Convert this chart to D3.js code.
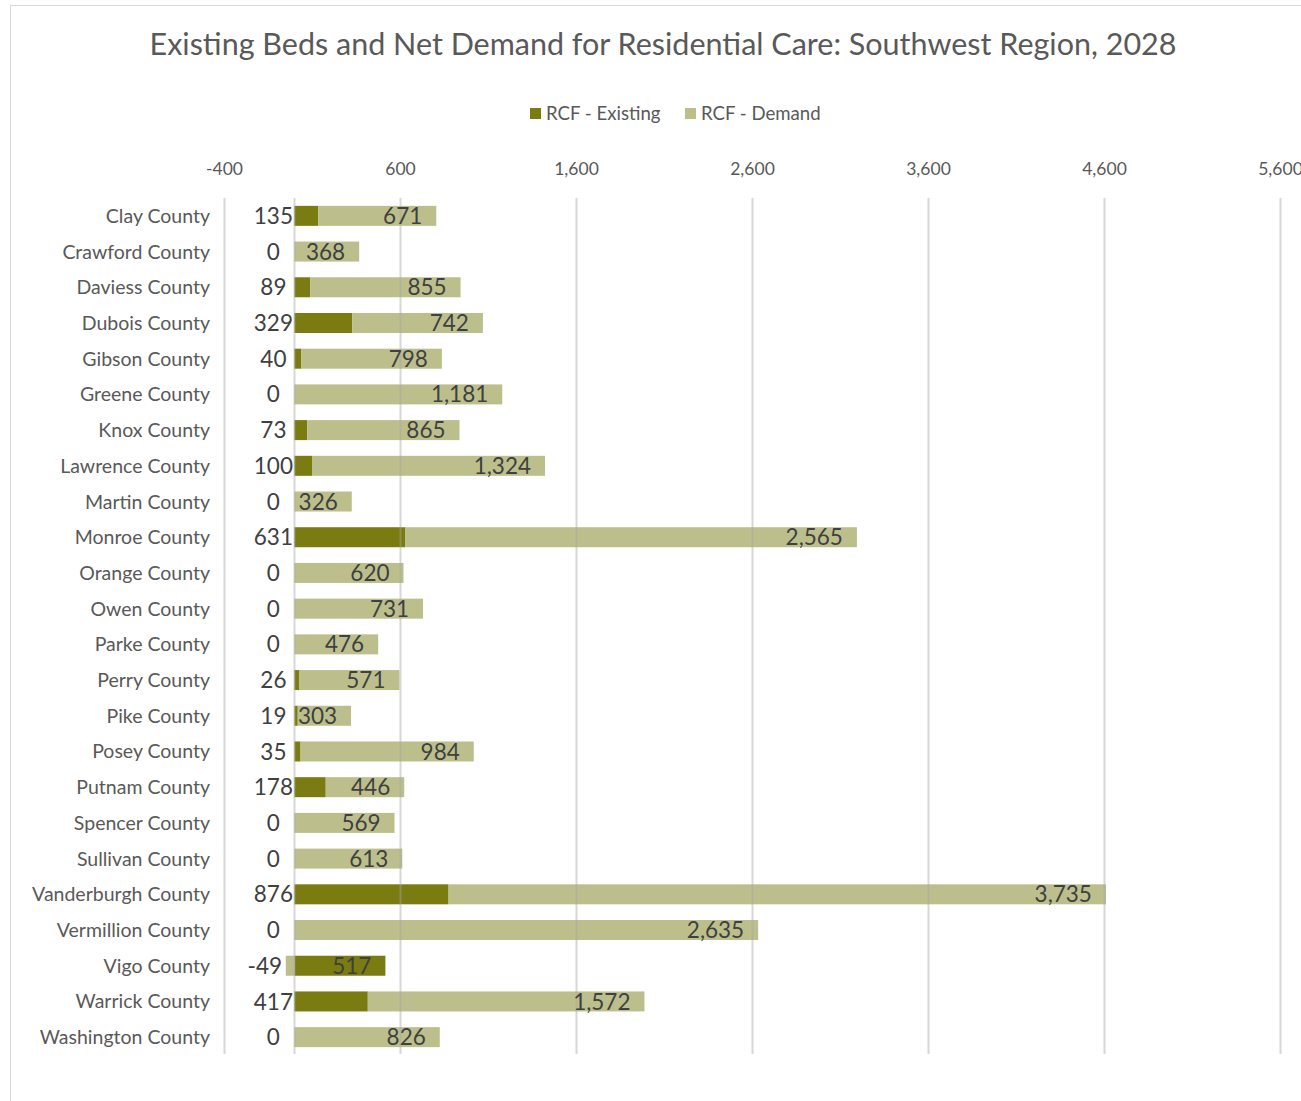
<!DOCTYPE html>
<html><head><meta charset="utf-8">
<script src="https://cdn.jsdelivr.net/npm/d3@7"></script>
<style>
body{margin:0;background:#fff;}
svg{font-family:Lato,"Open Sans",sans-serif;}
</style></head>
<body>
<svg id="c" width="1301" height="1101"></svg>
<script>
const counties = ["Clay County","Crawford County","Daviess County","Dubois County","Gibson County","Greene County","Knox County","Lawrence County","Martin County","Monroe County","Orange County","Owen County","Parke County","Perry County","Pike County","Posey County","Putnam County","Spencer County","Sullivan County","Vanderburgh County","Vermillion County","Vigo County","Warrick County","Washington County"];
const existing = [135,0,89,329,40,0,73,100,0,631,0,0,0,26,19,35,178,0,0,876,0,517,417,0];
const demand = [671,368,855,742,798,1181,865,1324,326,2565,620,731,476,571,303,984,446,569,613,3735,2635,-49,1572,826];
const tickValues = [-400,600,1600,2600,3600,4600,5600];
const seriesNames = ["RCF - Existing","RCF - Demand"];
const colors = ["#7a7b10","#bcbf8c"];

const svg = d3.select("#c");
const fmt = v => d3.format(",")(v).replace("\u2212","-");
const textCol = "#595959", labelCol = "#404040";

svg.append("rect").attr("x",10.5).attr("y",5.5).attr("width",1400).attr("height",1200)
  .attr("fill","none").attr("stroke","#d9d9d9").attr("stroke-width",1);

svg.append("text").attr("x",663).attr("y",55).attr("text-anchor","middle")
  .attr("font-size",30.5).attr("fill",textCol)
  .text("Existing Beds and Net Demand for Residential Care: Southwest Region, 2028");

// legend
const lg = svg.append("g");
const legendX = [530, 685];
seriesNames.forEach((n,i)=>{
  lg.append("rect").attr("x",legendX[i]).attr("y",108).attr("width",11).attr("height",11).attr("fill",colors[i]);
  lg.append("text").attr("x",legendX[i]+16).attr("y",120).attr("font-size",18.6).attr("fill",textCol).text(n);
});

const x = d3.scaleLinear().domain([-400,5600]).range([224,1280]);
const y = d3.scaleBand().domain(counties).range([198,1055]).paddingInner(0.44).paddingOuter(0.22);

// axis labels
const ax = svg.append("g").attr("transform","translate(0,175)")
  .call(d3.axisTop(x).tickValues(tickValues).tickFormat(fmt).tickSize(0).tickPadding(0));
ax.select(".domain").remove();
ax.selectAll("text").attr("font-size",17.5).attr("fill",textCol).attr("font-family","Lato,'Open Sans',sans-serif");

// bars
const rows = counties.map((c,i)=>({c, e:existing[i], d:demand[i]}));
const segs = [];
rows.forEach(r=>{
  let pos=0, neg=0;
  [[r.e,0],[r.d,1]].forEach(([v,s])=>{
    if(v>=0){ segs.push({c:r.c,x0:pos,x1:pos+v,s}); pos+=v; }
    else { segs.push({c:r.c,x0:neg+v,x1:neg,s}); neg+=v; }
  });
});
svg.append("g").selectAll("rect").data(segs).join("rect")
  .attr("x",d=>x(d.x0)).attr("width",d=>x(d.x1)-x(d.x0))
  .attr("y",d=>y(d.c)).attr("height",y.bandwidth())
  .attr("fill",d=>colors[d.s]);

// gridlines (drawn over bars, translucent)
const grid = tickValues.concat([0]);
svg.append("g").selectAll("line").data(grid).join("line")
  .attr("x1",d=>Math.round(x(d))+0.5).attr("x2",d=>Math.round(x(d))+0.5)
  .attr("y1",198).attr("y2",1054)
  .attr("stroke","#a6a6a6").attr("stroke-opacity",0.45).attr("stroke-width",2);

// category labels
svg.append("g").selectAll("text").data(counties).join("text")
  .attr("x",210).attr("y",d=>y(d)+y.bandwidth()/2).attr("dy","0.36em")
  .attr("text-anchor","end").attr("font-size",19.5).attr("fill",textCol).text(d=>d);

// data labels
const lab = svg.append("g").attr("font-size",22.5).attr("fill",labelCol);
rows.forEach(r=>{
  const cy = y(r.c)+y.bandwidth()/2;
  const negV = Math.min(r.e, r.d);
  const leftVal = negV<0 ? negV : r.e;
  const leftX = negV<0 ? x(negV)-21 : x(0)-21;
  lab.append("text").attr("x",leftX).attr("y",cy).attr("dy","0.36em")
    .attr("text-anchor","middle").text(fmt(leftVal));
  const posTop = (r.e>0?r.e:0)+(r.d>0?r.d:0);
  const topVal = r.d>0 ? r.d : r.e;
  lab.append("text").attr("x",x(posTop)-14).attr("y",cy).attr("dy","0.36em")
    .attr("text-anchor","end").text(fmt(topVal));
});
</script>
</body></html>
